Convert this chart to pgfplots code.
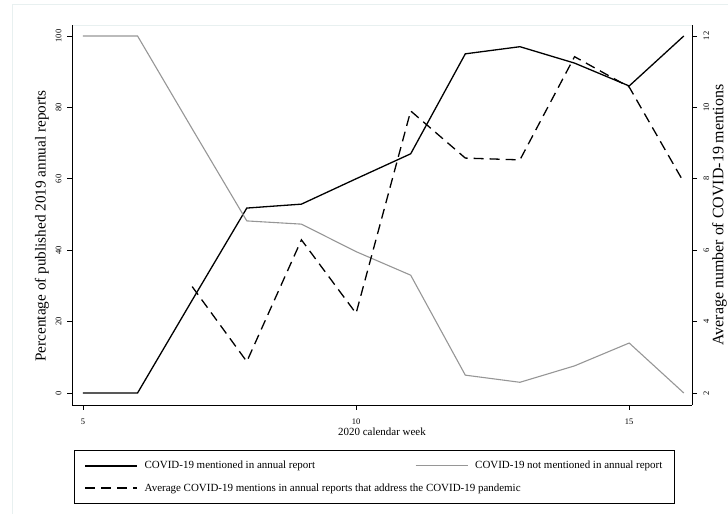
\documentclass[border=0pt]{standalone}
\usepackage{fontspec}
\setmainfont{Liberation Serif}
\usepackage{pgfplots}
\pgfplotsset{compat=1.18}
\definecolor{lgray}{RGB}{150,150,150}
\definecolor{framec}{RGB}{232,240,240}
\begin{document}
\begin{tikzpicture}[x=1bp,y=1bp]
\useasboundingbox (0,0) rectangle (728,514);
\draw[framec, line width=1bp] (12,0) -- (12,509) -- (728,509);
\draw[framec, line width=0.8bp] (72,489) -- (692,489);
\begin{axis}[
  at={(72bp,109bp)}, anchor=south west,
  scale only axis, width=620bp, height=380bp,
  xmin=4.8, xmax=16.15, ymin=-3.36, ymax=103.08,
  axis x line*=bottom, axis y line*=left,
  xtick={5,10,15}, ytick={0,20,...,100},
  tick align=outside, major tick length=5bp,
  tick style={black, line width=0.6bp},
  axis line style={black, line width=0.8bp, -},
  /pgf/number format/assume math mode=true,
  xticklabel style={font=\fontsize{8.5}{9}\selectfont, yshift=-5bp},
  yticklabel style={font=\fontsize{8.5}{9}\selectfont, xshift=-2bp, rotate=90, anchor=south},
  xlabel={2020 calendar week},
  xlabel style={font=\fontsize{11}{12}\selectfont, at={(axis description cs:0.5,-0.071)}, anchor=center},
  ylabel={Percentage of published 2019 annual reports},
  ylabel style={font=\fontsize{15.3}{17}\selectfont, at={(axis description cs:-0.0484,0.471)}, anchor=center},
  clip=false,
]
\addplot[black, line width=1.3bp] coordinates {
(5,0) (6,0) (7,26) (8,51.8) (9,52.9) (10,60) (11,67) (12,95) (13,97) (14,92.4) (15,86) (16,100)};
\addplot[lgray, line width=1.1bp] coordinates {
(5,100) (6,100) (7,74) (8,48.2) (9,47.3) (10,39.6) (11,33) (12,5) (13,3) (14,7.6) (15,14) (16,0)};
\end{axis}
\begin{axis}[
  at={(72bp,109bp)}, anchor=south west,
  scale only axis, width=620bp, height=380bp,
  xmin=4.8, xmax=16.15, ymin=1.664, ymax=12.308,
  axis x line=none, axis y line*=right,
  ytick={2,4,...,12},
  tick align=outside, major tick length=5bp,
  tick style={black, line width=0.6bp},
  axis line style={black, line width=0.8bp, -},
  /pgf/number format/assume math mode=true,
  yticklabel style={font=\fontsize{8.5}{9}\selectfont, xshift=3bp, rotate=90, anchor=north},
  ylabel={Average number of COVID-19 mentions},
  ylabel style={font=\fontsize{16}{17}\selectfont, at={(axis description cs:1.0444,0.5)}, anchor=center},
  clip=false,
  legend columns=2,
  legend cell align=left,
  legend image code/.code={\draw[#1] (0bp,0bp) -- (52bp,0bp);},
  legend style={at={(0.0032,-0.1184)}, anchor=north west, draw=black, line width=0.8bp,
    font=\fontsize{11}{12}\selectfont, inner xsep=10bp, inner ysep=9bp,
    row sep=9bp,
    /tikz/every odd column/.append style={column sep=5bp},
    /tikz/every even column/.append style={column sep=98bp}},
]
\addlegendimage{black, line width=1.3bp}
\addlegendentry{COVID-19 mentioned in annual report}
\addlegendimage{lgray, line width=1.1bp}
\addlegendentry{COVID-19 not mentioned in annual report\hspace{9bp}}
\addplot[black, line width=1.3bp, dash pattern=on 10bp off 6bp] coordinates {
(7,4.98) (8,2.88) (9,6.29) (10,4.23) (11,9.9) (12,8.58) (13,8.53) (14,11.42) (15,10.57) (16,7.9)};
\addlegendentry{\makebox[0pt][l]{Average COVID-19 mentions in annual reports that address the COVID-19 pandemic}}
\end{axis}
\end{tikzpicture}
\end{document}
